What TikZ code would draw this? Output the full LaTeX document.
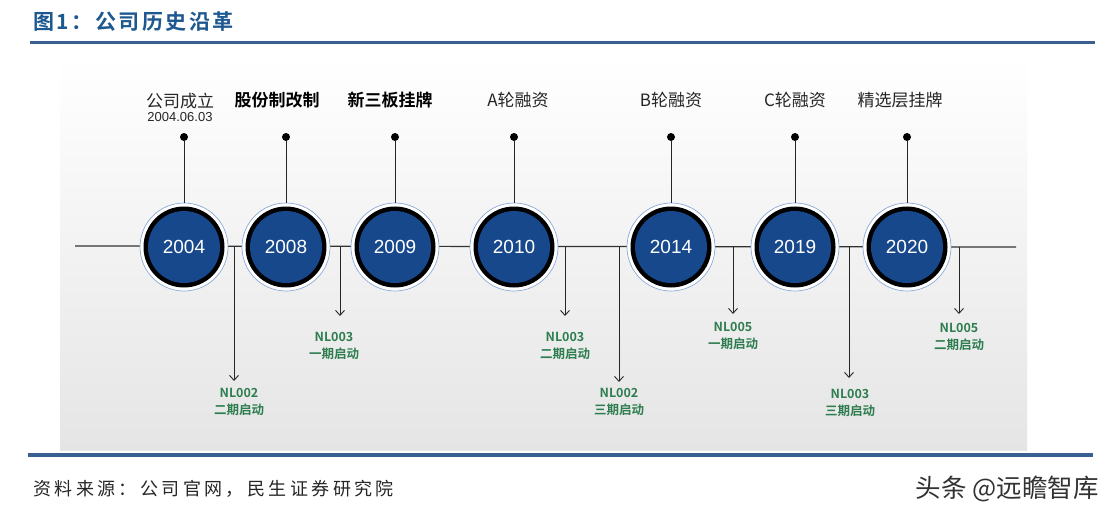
\documentclass[tikz,border=0pt]{standalone}
\usepackage{fontspec}
\setmainfont{Liberation Sans}
\newfontfamily\cjk{Noto Sans CJK SC}[BoldFont={Noto Sans CJK SC Bold}]
\usetikzlibrary{arrows.meta}
\definecolor{hdrblue}{RGB}{30,88,145}
\definecolor{rulblue}{RGB}{58,96,146}
\definecolor{yrblue}{RGB}{24,72,140}
\definecolor{ringout}{RGB}{140,170,215}
\definecolor{lblgreen}{RGB}{46,125,80}
\definecolor{panelgray}{RGB}{229,229,229}
\tikzset{
  yr/.style={circle, minimum size=88pt, inner sep=0pt, draw=ringout, line width=0.7pt, fill=white,
    path picture={\fill[black] (path picture bounding box.center) circle[radius=40.5pt];
                  \fill[yrblue] (path picture bounding box.center) circle[radius=36pt];},
    text=white, font=\fontsize{19}{22}\selectfont},
  pin/.style={circle, fill=black, minimum size=8pt, inner sep=0pt},
  evt/.style={font=\cjk\fontsize{17}{19}\selectfont, inner sep=0pt, text=black!85},
  evtb/.style={font=\cjk\bfseries\fontsize{17}{19}\selectfont, inner sep=0pt, text=black},
  stem/.style={line width=0.9pt, black!85},
  arr/.style={line width=0.9pt, black!85, -{Straight Barb[length=5pt,width=9pt,line width=0.9pt]}},
  lbl/.style={font=\cjk\bfseries\fontsize{12.5}{16.5}\selectfont, text=lblgreen, align=center, inner sep=0pt},
}
\begin{document}
\begin{tikzpicture}[x=1pt,y=-1pt]
\useasboundingbox (0,0) rectangle (1115,513);
\fill[white] (0,0) rectangle (1115,513);
% panel
\shade[top color=white, bottom color=panelgray] (60,58) rectangle (1027,450);
% header
\node[anchor=west, text=hdrblue, inner sep=0pt, font=\cjk\bfseries\fontsize{21}{24}\selectfont\addfontfeature{LetterSpace=12}] (title) at (33,22) {图1：公司历史沿革};
\draw[rulblue, line width=3pt] (30,43) -- (1095,43);
\draw[rulblue, line width=3.5pt] (28,455) -- (1093,455);
\node[anchor=west, inner sep=0pt, text=black!85, font=\cjk\fontsize{18}{20}\selectfont\addfontfeature{LetterSpace=19}] (src) at (33,489) {资料来源：公司官网，民生证券研究院};
\node[anchor=east, inner sep=0pt, text=black!80, font=\cjk\fontsize{25.5}{27}\selectfont] (wm) at (1099,489) {头条 @远瞻智库};
% timeline
\coordinate (L) at (75,246);
\coordinate (R) at (1016,247);
\draw[line width=1.2pt, black!80] (L) -- (R);
% top event labels and pins
\node[evt] (e1) at (180,101) {公司成立};
\node[inner sep=0pt, font=\fontsize{13}{15}\selectfont, text=black!85] (e1d) at (180,117) {2004.06.03};
\node[evtb] (e2) at (277,100) {股份制改制};
\node[evtb] (e3) at (390,100) {新三板挂牌};
\node[evt] (e4) at (518,100) {A轮融资};
\node[evt] (e5) at (671,100) {B轮融资};
\node[evt] (e6) at (795,100) {C轮融资};
\node[evt] (e7) at (900,100) {精选层挂牌};
\node[pin] (p1) at (184,137) {};
\node[pin] (p2) at (286,137) {};
\node[pin] (p3) at (395,137) {};
\node[pin] (p4) at (514,137) {};
\node[pin] (p5) at (671,137) {};
\node[pin] (p6) at (795,137) {};
\node[pin] (p7) at (907,137) {};
% circles
\node[yr] (c1) at (184,247) {2004};
\node[yr] (c2) at (286,247) {2008};
\node[yr] (c3) at (395,247) {2009};
\node[yr] (c4) at (514,247) {2010};
\node[yr] (c5) at (671,247) {2014};
\node[yr] (c6) at (795,247) {2019};
\node[yr] (c7) at (907,247) {2020};
\foreach \i in {1,...,7} {\draw[stem] (p\i) -- (c\i.north);}
% down arrows
\coordinate (s1) at (234,247); \coordinate (t1) at (234,381);
\coordinate (s2) at (340,247); \coordinate (t2) at (340,316);
\coordinate (s3) at (565,247); \coordinate (t3) at (565,316);
\coordinate (s4) at (619,247); \coordinate (t4) at (619,382);
\coordinate (s5) at (733,247); \coordinate (t5) at (733,314);
\coordinate (s6) at (849,247); \coordinate (t6) at (849,378);
\coordinate (s7) at (959,247); \coordinate (t7) at (959,314);
\foreach \i in {1,...,7} {\draw[arr] (s\i) -- (t\i);}
\node[lbl] (n1) at (239,402) {NL002\\二期启动};
\node[lbl] (n2) at (334,346) {NL003\\一期启动};
\node[lbl] (n3) at (565,346) {NL003\\二期启动};
\node[lbl] (n4) at (619,402) {NL002\\三期启动};
\node[lbl] (n5) at (733,336) {NL005\\一期启动};
\node[lbl] (n6) at (850,403) {NL003\\三期启动};
\node[lbl] (n7) at (959,337) {NL005\\二期启动};
\end{tikzpicture}
\end{document}
